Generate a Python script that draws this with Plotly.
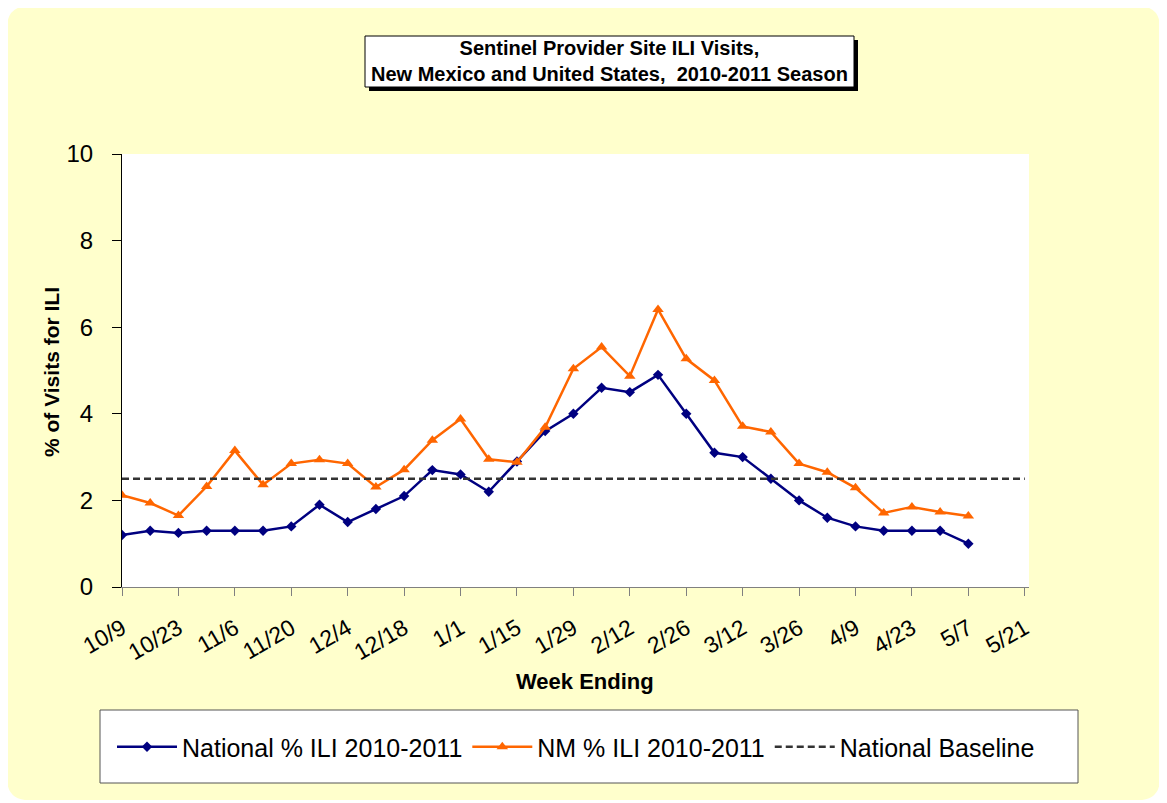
import plotly.graph_objects as go

weeks = ["10/9", "10/16", "10/23", "10/30", "11/6", "11/13", "11/20", "11/27",
         "12/4", "12/11", "12/18", "12/25", "1/1", "1/8", "1/15", "1/22",
         "1/29", "2/5", "2/12", "2/19", "2/26", "3/5", "3/12", "3/19",
         "3/26", "4/2", "4/9", "4/16", "4/23", "4/30", "5/7", "5/14", "5/21"]
tick_labels = weeks[::2]

national = [1.2, 1.3, 1.25, 1.3, 1.3, 1.3, 1.4, 1.9, 1.5, 1.8, 2.1, 2.7, 2.6, 2.2,
            2.9, 3.6, 4.0, 4.6, 4.5, 4.9, 4.0, 3.1, 3.0, 2.5, 2.0, 1.6, 1.4, 1.3,
            1.3, 1.3, 1.0]
nm = [2.12, 1.94, 1.65, 2.32, 3.15, 2.36, 2.85, 2.94, 2.85, 2.31, 2.71, 3.39, 3.88,
      2.95, 2.88, 3.69, 5.04, 5.54, 4.87, 6.41, 5.27, 4.77, 3.71, 3.58, 2.85, 2.65,
      2.29, 1.71, 1.85, 1.73, 1.64]
baseline = 2.5

# page has an 8px body margin; work in reference pixel coords and shift
OFF = 8
W, H = 1167 - OFF, 803 - OFF
L, R, T, B = 122, 1029, 154, 587
PW, PH = R - L, B - T


def fx(px):
    return (px - L) / PW


def fy(py):
    return (B - py) / PH


FONT = "Liberation Sans, Arial, sans-serif"

fig = go.Figure()
fig.add_trace(go.Scatter(
    x=weeks[:len(national)], y=national, mode="lines+markers",
    name="National % ILI 2010-2011",
    line=dict(color="#000080", width=2.5),
    marker=dict(symbol="diamond", size=8, color="#000080")))
fig.add_trace(go.Scatter(
    x=weeks[:len(nm)], y=nm, mode="lines+markers",
    name="NM % ILI 2010-2011",
    line=dict(color="#FF6600", width=2.5),
    marker=dict(symbol="triangle-up", size=10, color="#FF6600")))
fig.add_trace(go.Scatter(
    x=[weeks[0], weeks[-1]], y=[baseline, baseline], mode="lines",
    name="National Baseline",
    line=dict(color="#333333", width=2.5, dash="7px,4px")))

# rounded yellow panel
x0, x1, y0, y1 = 7, 1160, 6, 800
r = 22
path = (f"M {fx(x0 + r)},{fy(y0)} L {fx(x1 - r)},{fy(y0)} "
        f"Q {fx(x1)},{fy(y0)} {fx(x1)},{fy(y0 + r)} "
        f"L {fx(x1)},{fy(y1 - r)} Q {fx(x1)},{fy(y1)} {fx(x1 - r)},{fy(y1)} "
        f"L {fx(x0 + r)},{fy(y1)} Q {fx(x0)},{fy(y1)} {fx(x0)},{fy(y1 - r)} "
        f"L {fx(x0)},{fy(y0 + r)} Q {fx(x0)},{fy(y0)} {fx(x0 + r)},{fy(y0)} Z")
shapes = [
    dict(type="path", xref="paper", yref="paper", path=path,
         fillcolor="#FFFFCC", line=dict(width=0), layer="below"),
    dict(type="rect", xref="paper", yref="paper", x0=0, x1=1, y0=0, y1=1,
         fillcolor="white", line=dict(width=0), layer="below"),
    # title box shadow and box
    dict(type="rect", xref="paper", yref="paper", x0=fx(369), x1=fx(858),
         y0=fy(91), y1=fy(40), fillcolor="black", line=dict(width=0), layer="below"),
    dict(type="rect", xref="paper", yref="paper", x0=fx(365), x1=fx(854),
         y0=fy(87), y1=fy(36), fillcolor="white",
         line=dict(color="black", width=1), layer="below"),
    # legend box
    dict(type="rect", xref="paper", yref="paper", x0=fx(100), x1=fx(1078),
         y0=fy(783), y1=fy(710), fillcolor="white",
         line=dict(color="#555555", width=1), layer="below"),
]

annotations = [
    dict(xref="paper", yref="paper", x=fx(609), y=fy(61), xanchor="center",
         yanchor="middle", showarrow=False, align="center",
         text="<b>Sentinel Provider Site ILI Visits,<br>New Mexico and United States,\u00a0 2010-2011 Season</b>",
         font=dict(family=FONT, size=20, color="black")),
    dict(xref="paper", yref="paper", x=fx(585), y=fy(681), xanchor="center",
         yanchor="middle", showarrow=False, text="<b>Week Ending</b>",
         font=dict(family=FONT, size=22, color="black")),
    dict(xref="paper", yref="paper", x=fx(51), y=fy(372), xanchor="center",
         yanchor="middle", showarrow=False, textangle=-90,
         text="<b>% of Visits for ILI</b>",
         font=dict(family=FONT, size=21, color="black")),
]

fig.update_layout(
    width=W, height=H,
    margin=dict(l=L - OFF, r=W - (R - OFF), t=T - OFF, b=H - (B - OFF),
                autoexpand=False),
    paper_bgcolor="white", plot_bgcolor="rgba(0,0,0,0)",
    shapes=shapes, annotations=annotations,
    font=dict(family=FONT, color="black"),
    showlegend=True,
    legend=dict(orientation="h", x=fx(112), y=fy(747), xanchor="left",
                yanchor="middle", bgcolor="rgba(0,0,0,0)",
                font=dict(family=FONT, size=25, color="black"),
                itemwidth=60, tracegroupgap=0),
)
fig.update_xaxes(
    type="category", categoryorder="array", categoryarray=weeks,
    range=[0, len(weeks) - 1 + 0.15],
    tickmode="array", tickvals=tick_labels, ticktext=tick_labels,
    tickangle=-30, tickfont=dict(family=FONT, size=23, color="black"),
    ticks="outside", ticklen=8, tickcolor="#808080",
    showline=True, linecolor="#808080", linewidth=1,
    showgrid=False, zeroline=False, ticklabelstandoff=10)
fig.update_yaxes(
    range=[0, 10], tickvals=[0, 2, 4, 6, 8, 10],
    tickfont=dict(family=FONT, size=24, color="black"),
    ticks="outside", ticklen=9, tickcolor="black",
    showline=True, linecolor="black", linewidth=1,
    showgrid=False, zeroline=False, ticklabelstandoff=14)

fig.write_html("out.html")
